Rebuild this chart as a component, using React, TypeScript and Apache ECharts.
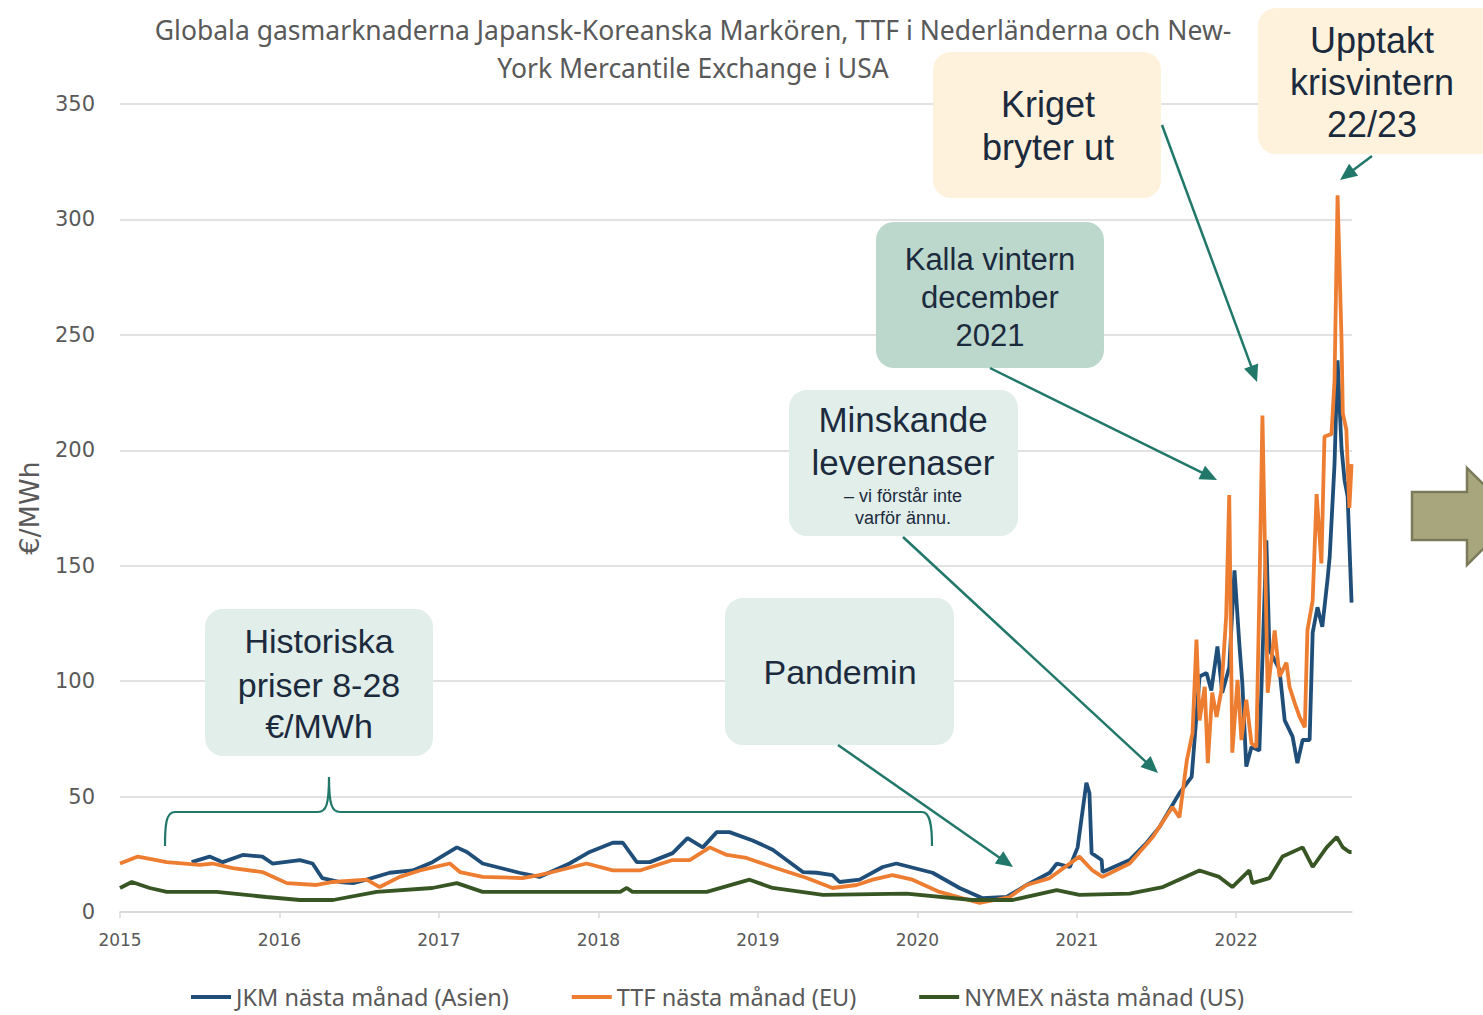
import React, { useEffect, useRef } from 'react';
import * as echarts from 'echarts';

// ---------- DATA ----------
const seriesNames = ['JKM nästa månad (Asien)', 'TTF nästa månad (EU)', 'NYMEX nästa månad (US)'];

const jkmDates = [
  '2015-06-14', '2015-07-25', '2015-08-24', '2015-10-09', '2015-11-23', '2015-12-16',
  '2016-02-17', '2016-03-17', '2016-04-08', '2016-05-19', '2016-06-18', '2016-07-19',
  '2016-09-10', '2016-11-02', '2016-12-17', '2017-02-11', '2017-03-06', '2017-04-11',
  '2017-07-04', '2017-08-19', '2017-10-27', '2017-12-12', '2018-02-03', '2018-02-26',
  '2018-03-30', '2018-04-29', '2018-06-20', '2018-07-24', '2018-08-28', '2018-09-29',
  '2018-10-28', '2018-12-20', '2019-02-04', '2019-04-14', '2019-05-16', '2019-06-21',
  '2019-07-07', '2019-08-22', '2019-10-14', '2019-11-14', '2020-02-05', '2020-04-07',
  '2020-05-30', '2020-07-24', '2020-09-08', '2020-10-31', '2020-11-16', '2020-12-16',
  '2021-01-03', '2021-01-23', '2021-01-30', '2021-02-04', '2021-02-27', '2021-03-01',
  '2021-05-02', '2021-06-10', '2021-07-10', '2021-08-24', '2021-09-21', '2021-10-09',
  '2021-10-25', '2021-11-05', '2021-11-19', '2021-11-30', '2021-12-16', '2021-12-28',
  '2022-01-08', '2022-01-15', '2022-01-24', '2022-02-05', '2022-02-23', '2022-03-11',
  '2022-03-18', '2022-04-10', '2022-04-22', '2022-05-10', '2022-05-21', '2022-06-02',
  '2022-06-18', '2022-06-25', '2022-07-06', '2022-07-17', '2022-07-29', '2022-08-03',
  '2022-08-14', '2022-08-21', '2022-08-30', '2022-09-06', '2022-09-13', '2022-09-22'
];
const jkmValues = [
  21.6, 24, 21.6, 24.7, 24, 21,
  22.5, 21, 14.7, 13, 12.5, 14,
  17, 18, 21.6, 28, 26, 21,
  17, 15.2, 21, 26, 30, 30,
  21.6, 21.6, 25.5, 32, 28, 34.6,
  34.6, 31, 27, 17.3, 17, 16,
  13, 14, 19.5, 21, 17, 10.4,
  6, 6.5, 11.7, 17, 21, 19.5,
  28, 56, 51.5, 25.5, 22.5, 17.3,
  22.5, 30, 37, 51.5, 58.5, 102,
  103.5, 96, 115, 95, 106, 148,
  116.5, 99, 63, 71.5, 70, 161,
  113.5, 105, 83, 76, 64.5, 74.5,
  74.5, 121, 132, 123.5, 144, 154,
  194, 239, 201, 187, 180, 134
];

const ttfDates = [
  '2015-01-01', '2015-02-11', '2015-04-18', '2015-07-02', '2015-08-01', '2015-09-16',
  '2015-11-23', '2016-01-18', '2016-03-26', '2016-05-03', '2016-07-19', '2016-08-18',
  '2016-10-03', '2016-11-18', '2017-01-26', '2017-02-18', '2017-04-11', '2017-07-11',
  '2017-08-19', '2017-09-11', '2017-12-05', '2018-02-03', '2018-04-06', '2018-06-20',
  '2018-07-29', '2018-09-13', '2018-10-22', '2018-12-06', '2019-02-04', '2019-04-23',
  '2019-06-21', '2019-08-15', '2019-09-21', '2019-11-05', '2019-12-21', '2020-02-21',
  '2020-05-23', '2020-07-31', '2020-09-08', '2020-10-31', '2021-01-07', '2021-02-06',
  '2021-03-01', '2021-05-02', '2021-06-24', '2021-08-08', '2021-08-24', '2021-09-10',
  '2021-09-23', '2021-10-02', '2021-10-09', '2021-10-21', '2021-10-28', '2021-11-07',
  '2021-11-17', '2021-11-28', '2021-12-09', '2021-12-16', '2021-12-23', '2022-01-04',
  '2022-01-13', '2022-01-24', '2022-02-05', '2022-02-16', '2022-02-23', '2022-03-02',
  '2022-03-14', '2022-03-30', '2022-04-10', '2022-04-26', '2022-05-03', '2022-05-15',
  '2022-05-26', '2022-06-07', '2022-06-13', '2022-06-25', '2022-07-04', '2022-07-15',
  '2022-07-22', '2022-08-07', '2022-08-14', '2022-08-21', '2022-08-30', '2022-09-02',
  '2022-09-10', '2022-09-17', '2022-09-22'
];
const ttfValues = [
  21, 24, 21.6, 20.4, 21, 19,
  17.3, 12.5, 11.7, 13, 14, 10.8,
  15.2, 18, 21, 17.3, 15.2, 14.7,
  16, 17, 21, 18, 18, 22.5,
  22.5, 28, 24.7, 23.4, 19.5, 14.7,
  10.4, 11.7, 14, 16, 14, 8.7,
  3.9, 6.5, 11.7, 14.7, 24, 18,
  15.2, 21, 32.5, 45.5, 41, 65.8,
  77.5, 118, 83, 97.5, 64.5, 95,
  84.5, 96, 128, 180.6, 69, 100.5,
  74.5, 92, 73, 71.5, 138, 215,
  95, 122, 102, 108, 97.5, 90.5,
  84.5, 80, 122, 135, 181, 151,
  206, 207, 230, 310.5, 248, 216,
  209, 175, 194
];

const nymexDates = [
  '2015-01-01', '2015-01-28', '2015-03-10', '2015-04-18', '2015-08-10', '2015-12-02',
  '2016-02-17', '2016-05-03', '2016-08-11', '2016-12-17', '2017-02-11', '2017-04-11',
  '2017-09-11', '2018-02-20', '2018-03-07', '2018-03-20', '2018-09-06', '2018-12-13',
  '2019-02-04', '2019-05-30', '2019-12-07', '2020-05-07', '2020-08-07', '2020-11-16',
  '2021-01-07', '2021-05-02', '2021-07-17', '2021-10-09', '2021-11-23', '2021-12-23',
  '2022-01-31', '2022-02-07', '2022-03-18', '2022-04-17', '2022-06-02', '2022-06-25',
  '2022-07-27', '2022-08-19', '2022-09-02', '2022-09-17', '2022-09-22'
];
const nymexValues = [
  10.4, 13, 10.4, 8.7, 8.7, 6.5,
  5.2, 5.2, 8.7, 10.4, 12.5, 8.7,
  8.7, 8.7, 10.4, 8.7, 8.7, 14,
  10.4, 7.4, 8, 5.2, 5.2, 9.5,
  7.4, 8, 10.8, 18, 15.2, 10.8,
  18, 12.5, 14.7, 24, 28, 19.5,
  28, 32.5, 28, 26, 26
];

const tickYears = [2015, 2016, 2017, 2018, 2019, 2020, 2021, 2022];
const xEndDate = '2022-09-23';
const titleLines = [
  'Globala gasmarknaderna Japansk-Koreanska Markören, TTF i Nederländerna och New-',
  'York Mercantile Exchange i USA'
];

// ---------- STYLE ----------
const BLUE = '#1f4e79';
const ORANGE = '#ed7d31';
const GREEN = '#375623';
const TEAL = '#21786a';
const GREY = '#595959';
const BOX_TXT = '#1c2a3e';
const BOX_LIGHT = '#e1eee9';
const BOX_MID = '#bcd8cc';
const BOX_CREAM = '#fff2dc';
const BOX_FONT = '"Liberation Sans", Arial, sans-serif';

// date string -> decimal year
function decYear(s: string) {
  const [y, m, d] = s.split('-').map(Number);
  const start = Date.UTC(y, 0, 1);
  const end = Date.UTC(y + 1, 0, 1);
  return y + (Date.UTC(y, m - 1, d) - start) / (end - start);
}

function zip(d: string[], v: number[]) {
  return d.map((x, i) => [decYear(x), v[i]]);
}

function arrow(x1: number, y1: number, x2: number, y2: number) {
  const dx = x2 - x1, dy = y2 - y1;
  const len = Math.hypot(dx, dy);
  const ux = dx / len, uy = dy / len;
  const hl = 17, hw = 7.5;
  const bx = x2 - ux * hl, by = y2 - uy * hl;
  return [
    { type: 'line', z: 100, shape: { x1, y1, x2: bx + ux * 2, y2: by + uy * 2 }, style: { stroke: TEAL, lineWidth: 2.5 } },
    {
      type: 'polygon', z: 100,
      shape: { points: [[x2, y2], [bx - uy * hw, by + ux * hw], [bx + uy * hw, by - ux * hw]] },
      style: { fill: TEAL }
    }
  ];
}

function box(x: number, y: number, w: number, h: number, fill: string) {
  return { type: 'rect', z: 90, shape: { x, y, width: w, height: h, r: 18 }, style: { fill } };
}

function txt(text: string, x: number, y: number, size: number, color = BOX_TXT, family = BOX_FONT) {
  return {
    type: 'text', z: 101, x, y,
    style: { text, fill: color, fontSize: size, fontFamily: family, align: 'center', verticalAlign: 'middle' }
  };
}

export default function App() {
  const ref = useRef<HTMLDivElement>(null);
  useEffect(() => {
    document.body.style.margin = '0';
    echarts.graphic.registerShape(
      'bracket',
      echarts.graphic.extendPath(
        'M165 846 C165 825 166 812 175 812 L318 812 C326 812 329 805 329 777 C329 805 332 812 340 812 L922 812 C930 812 932 825 932 846',
        {}
      )
    );
    const chart = echarts.init(ref.current!, null, { renderer: 'svg' });

    const graphics: any[] = [
      // title
      txt(titleLines[0], 693, 30, 26.5, GREY, '"Noto Sans", sans-serif'),
      txt(titleLines[1], 693, 68, 26.5, GREY, '"Noto Sans", sans-serif'),
      // bracket
      { type: 'bracket', z: 100, style: { stroke: TEAL, fill: 'none', lineWidth: 2.2 } },
      // arrows
      ...arrow(838, 745, 1013, 867),
      ...arrow(903, 537, 1158, 773),
      ...arrow(990, 368, 1217, 480),
      ...arrow(1162, 125, 1257, 382),
      ...arrow(1372, 156, 1340, 180),
      // boxes
      box(205, 609, 228, 147, BOX_LIGHT),
      txt('Historiska', 319, 641, 34),
      txt('priser 8-28', 319, 685, 34),
      txt('€/MWh', 319, 726, 34),
      box(725, 598, 229, 147, BOX_LIGHT),
      txt('Pandemin', 840, 672, 34),
      box(789, 390, 229, 146, BOX_LIGHT),
      txt('Minskande', 903, 419, 35),
      txt('leverenaser', 903, 462, 35),
      txt('– vi förstår inte', 903, 496, 18),
      txt('varför ännu.', 903, 518, 18),
      box(876, 222, 228, 146, BOX_MID),
      txt('Kalla vintern', 990, 259, 31),
      txt('december', 990, 297, 31),
      txt('2021', 990, 335, 31),
      box(933, 52, 228, 146, BOX_CREAM),
      txt('Kriget', 1048, 104, 36),
      txt('bryter ut', 1048, 147, 36),
      box(1258, 8, 240, 146, BOX_CREAM),
      txt('Upptakt', 1372, 40, 36),
      txt('krisvintern', 1372, 82, 36),
      txt('22/23', 1372, 124, 36),
      // right arrow
      {
        type: 'polygon', z: 100,
        shape: { points: [[1412, 492], [1467, 492], [1467, 468], [1516, 516], [1467, 565], [1467, 540], [1412, 540]] },
        style: { fill: '#a8a67c', stroke: '#7b7a5b', lineWidth: 2.5 }
      }
    ];

    const option: any = {
      animation: false,
      backgroundColor: '#ffffff',
      grid: { left: 120, right: 131, top: 104, bottom: 103, containLabel: false },
      legend: {
        left: 186, top: 979, itemGap: 63, itemWidth: 40, itemHeight: 4, icon: 'rect',
        textStyle: { fontSize: 23.5, lineHeight: 26, color: GREY, fontFamily: '"Noto Sans", sans-serif' },
        data: seriesNames
      },
      xAxis: {
        type: 'value',
        min: tickYears[0],
        max: decYear(xEndDate),
        interval: 1,
        axisLine: { lineStyle: { color: '#d9d9d9', width: 1.5 } },
        axisTick: { show: true, customValues: tickYears, length: 6, lineStyle: { color: '#d9d9d9', width: 1.5 } },
        axisLabel: {
          customValues: tickYears,
          formatter: (v: number) => (Number.isInteger(v) ? String(v) : ''),
          color: GREY, fontSize: 17, fontFamily: '"DejaVu Sans", sans-serif', margin: 19
        },
        splitLine: { show: false }
      },
      yAxis: {
        type: 'value', min: 0, max: 350, interval: 50,
        name: '€/MWh', nameLocation: 'middle', nameRotate: 90, nameGap: 77,
        nameTextStyle: { fontSize: 27, color: GREY, fontFamily: '"DejaVu Sans", sans-serif' },
        axisLine: { show: false }, axisTick: { show: false },
        axisLabel: { color: GREY, fontSize: 21, fontFamily: '"DejaVu Sans", sans-serif', margin: 25 },
        splitLine: { lineStyle: { color: '#d9d9d9', width: 1.5 } }
      },
      series: [
        { name: seriesNames[0], type: 'line', data: zip(jkmDates, jkmValues), showSymbol: false, symbol: 'none', color: BLUE, lineStyle: { width: 3.8, color: BLUE } },
        { name: seriesNames[1], type: 'line', data: zip(ttfDates, ttfValues), showSymbol: false, symbol: 'none', color: ORANGE, lineStyle: { width: 3.8, color: ORANGE } },
        { name: seriesNames[2], type: 'line', data: zip(nymexDates, nymexValues), showSymbol: false, symbol: 'none', color: GREEN, lineStyle: { width: 3.8, color: GREEN } }
      ],
      graphic: graphics
    };
    chart.setOption(option);
    return () => chart.dispose();
  }, []);
  return <div ref={ref} style={{ width: 1483, height: 1015 }} />;
}
